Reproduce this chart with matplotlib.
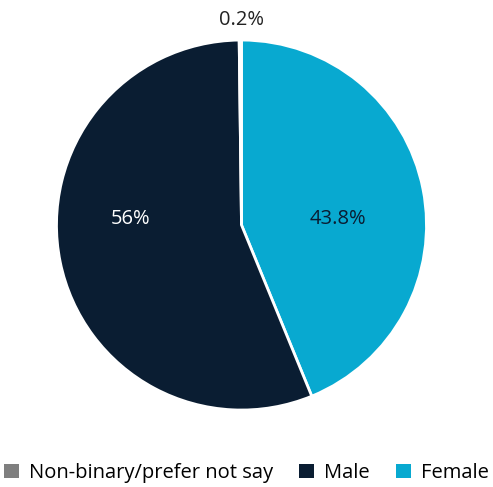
import matplotlib
matplotlib.use('Agg')
import matplotlib.pyplot as plt
from matplotlib.patches import Patch

plt.rcParams['font.family'] = ['Open Sans', 'DejaVu Sans']

# data (clockwise from top)
labels = ['Female', 'Male', 'Non-binary/prefer not say']
values = [43.8, 56.0, 0.2]
pct_text = ['43.8%', '56%', '0.2%']
colors = ['#08A9D0', '#0A1D32', '#7F7F7F']
legend_order = ['Non-binary/prefer not say', 'Male', 'Female']

fig = plt.figure(figsize=(4.93, 4.87), dpi=100)
ax = fig.add_axes([0.1146, 0.158, 0.7505, 0.7598])

wedges, _ = ax.pie(values, colors=colors, startangle=90, counterclock=False,
                   wedgeprops=dict(edgecolor='white', linewidth=2))
ax.set_xlim(-1, 1)
ax.set_ylim(-1, 1)
ax.set_aspect('equal')

# percentage labels
ax.text(0.52, 0.03, pct_text[0], ha='center', va='center', fontsize=14.5, color='#0A1D32')
ax.text(-0.6, 0.03, pct_text[1], ha='center', va='center', fontsize=14.5, color='white')
ax.text(0.0, 1.11, pct_text[2], ha='center', va='center', fontsize=14.5, color='#222222')

handles = [Patch(facecolor=colors[labels.index(l)], label=l) for l in legend_order]
fig.legend(handles=handles, loc='center', bbox_to_anchor=(0.5, 1 - 473 / 487), ncol=3,
           frameon=False, fontsize=14.5, handlelength=0.75, handleheight=0.75,
           handletextpad=0.5, columnspacing=1.3)

fig.savefig('out.png', dpi=100)
